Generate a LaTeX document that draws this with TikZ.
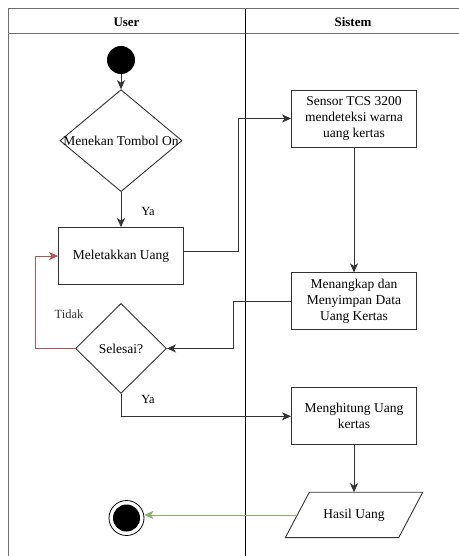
\documentclass[tikz,border=0pt]{standalone}
\usepackage{fontspec}
\setmainfont{Liberation Serif}
\usepackage{tikz}
\usetikzlibrary{shapes.geometric, arrows.meta, positioning}
\usepackage{xcolor}
\definecolor{lineGray}{RGB}{51, 51, 51}
\definecolor{laneGray}{RGB}{110, 110, 110}
\definecolor{loopRed}{RGB}{184, 84, 80}
\definecolor{doneGreen}{RGB}{130, 179, 102}

\begin{document}
\begin{tikzpicture}[x=1pt, y=-1pt,
    font=\fontsize{13.5}{16}\selectfont,
    box/.style={rectangle, draw=lineGray, line width=0.9pt, fill=white, minimum width=125pt, minimum height=57pt, align=center, inner sep=2pt},
    decision/.style={diamond, draw=lineGray, line width=0.9pt, fill=white, inner sep=0pt},
    lane/.style={font=\bfseries\fontsize{13}{16}\selectfont},
    flow/.style={draw=lineGray, line width=0.8pt, -{Stealth[length=9pt, width=8pt, inset=2.5pt]}},
    lbl/.style={font=\fontsize{12.5}{14}\selectfont}
]
\useasboundingbox (0,0) rectangle (458,556);
\fill[white] (0,0) rectangle (458,556);
% swimlanes
\draw[laneGray, line width=1pt] (8,570) -- (8,9) -- (470,9);
\draw[laneGray, line width=1pt] (8,34) -- (470,34);
\draw[black, line width=0.8pt] (245,9) -- (245,570);
\node[lane] (userlane) at (126.5,22) {User};
\node[lane] (sistemlane) at (353,22) {Sistem};

\node[circle, fill=black, minimum size=28pt, inner sep=0pt] (start) at (121,60) {};
\node[decision, minimum width=122pt, minimum height=102pt, below=15pt of start, label=center:{Menekan Tombol On}] (tombol) {};
\node[box, below=35pt of tombol] (letak) {Meletakkan Uang};
\node[decision, minimum width=91pt, minimum height=90pt, below=18pt of letak, label=center:{Selesai?}] (selesai) {};

\node[box] (sensor) at (354,118.5) {Sensor TCS 3200\\mendeteksi warna\\uang kertas};
\node[box, below=125pt of sensor] (simpan) {Menangkap dan\\Menyimpan Data\\Uang Kertas};
\node[box, below=57pt of simpan] (hitung) {Menghitung Uang\\kertas};
\node[minimum width=137pt, minimum height=45pt, inner sep=0pt, below=47pt of hitung] (hasil) {Hasil Uang};
\draw[lineGray, line width=0.9pt] ([xshift=24pt]hasil.north west) -- (hasil.north east) -- ([xshift=-24pt]hasil.south east) -- (hasil.south west) -- cycle;
\node[circle, draw=black, line width=0.8pt, minimum size=35pt, inner sep=0pt, path picture={\fill[black] (path picture bounding box.center) circle (13.5pt);}] (stop) at (126.5,518) {};

\draw[flow] (start) -- (tombol);
\draw[flow] (tombol) -- (letak) node[lbl, pos=0.55, xshift=27pt] {Ya};
\draw[flow] ([yshift=5pt]letak.east) -- ++(54pt,0) |- (sensor.west);
\draw[flow] (sensor) -- (simpan);
\draw[flow] (simpan.west) -- ++(-58pt,0) |- (selesai.east);
\draw[flow, draw=loopRed] (selesai.west) -- ++(-40pt,0) node[lbl, pos=0.15, yshift=34pt, text=lineGray] {Tidak} |- (letak.west);
\draw[flow] (selesai.south) |- (hitung.west) node[lbl, pos=0.12, xshift=27pt] {Ya};
\draw[flow] (hitung) -- (hasil);
\draw[flow, draw=doneGreen, line width=0.6pt] ([xshift=12pt]hasil.west) -- (hasil.west -| stop.east);
\end{tikzpicture}
\end{document}
